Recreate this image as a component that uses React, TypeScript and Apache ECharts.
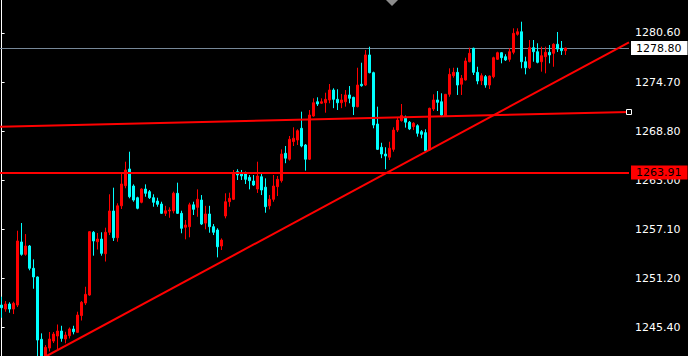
import React, { useEffect, useRef } from "react";
import * as echarts from "echarts";

// OHLC values (index = bar number)
const opens = [
  1248.03, 1247.55, 1248.15, 1247.55, 1248.03, 1255.58, 1254.1, 1255.1, 1252.43, 1251.39,
  1243.93, 1241.69, 1242.88, 1243.72, 1244.32, 1244.92, 1243.96, 1244.36, 1245.16, 1244.76,
  1246.77, 1248.27, 1249.23, 1256.74, 1255.61, 1255.93, 1254.17, 1256.74, 1259.29, 1256.09,
  1259.91, 1262.32, 1264.32, 1262.28, 1260.88, 1260.33, 1261.92, 1261.6, 1260.88, 1260.48,
  1260.12, 1259.01, 1259.29, 1259.29, 1261.41, 1259.01, 1257.34, 1257.41, 1260.03, 1259.73,
  1260.6, 1257.84, 1258.93, 1257.41, 1257.01, 1255.1, 1258.69, 1260.4, 1260.69, 1264.0,
  1263.88, 1263.88, 1263.32, 1262.88, 1261.92, 1263.39, 1262.14, 1259.91, 1260.69, 1262.2,
  1262.92, 1266.2, 1265.49, 1267.6, 1267.79, 1269.19, 1267.19, 1265.49, 1270.66, 1272.37,
  1272.19, 1272.25, 1272.58, 1273.77, 1272.66, 1272.25, 1272.37, 1273.18, 1272.9, 1271.78,
  1274.46, 1274.37, 1277.97, 1275.85, 1269.7, 1266.92, 1266.11, 1265.73, 1266.67, 1268.98,
  1270.11, 1270.39, 1269.92, 1269.39, 1269.5, 1268.79, 1268.67, 1266.59, 1271.5, 1272.58,
  1272.37, 1270.66, 1273.26, 1275.49, 1275.89, 1274.46, 1274.97, 1277.16, 1278.77, 1275.89,
  1274.89, 1275.37, 1274.37, 1275.37, 1277.45, 1278.24, 1277.76, 1277.45, 1278.29, 1280.44,
  1280.75, 1277.16, 1276.44, 1278.84, 1278.36, 1277.16, 1277.76, 1278.29, 1278.17, 1279.25,
  1278.77, 1278.48,
];

const closes = [
  1247.71, 1248.15, 1247.55, 1248.24, 1255.7, 1254.1, 1255.1, 1252.43, 1251.39, 1243.84,
  1241.69, 1242.97, 1243.96, 1244.56, 1244.92, 1244.04, 1244.44, 1245.16, 1244.83, 1246.83,
  1248.36, 1249.31, 1256.81, 1255.7, 1255.93, 1254.22, 1256.74, 1259.29, 1256.09, 1259.91,
  1262.52, 1264.2, 1261.0, 1260.6, 1259.61, 1261.92, 1261.41, 1260.88, 1260.33, 1260.09,
  1259.01, 1259.32, 1259.41, 1261.41, 1259.01, 1257.22, 1257.61, 1260.03, 1259.49, 1260.69,
  1257.73, 1258.93, 1257.41, 1256.74, 1255.01, 1255.81, 1260.4, 1260.81, 1263.8, 1263.6,
  1263.48, 1263.08, 1262.92, 1262.4, 1263.48, 1261.8, 1259.8, 1260.69, 1262.28, 1263.08,
  1266.11, 1265.61, 1267.87, 1268.0, 1268.9, 1267.07, 1265.49, 1270.78, 1272.25, 1272.1,
  1272.37, 1272.66, 1273.77, 1272.66, 1272.25, 1272.58, 1273.18, 1272.78, 1271.78, 1274.37,
  1274.29, 1277.97, 1275.85, 1269.58, 1266.67, 1266.11, 1265.87, 1266.81, 1268.98, 1270.18,
  1270.71, 1269.92, 1269.11, 1269.8, 1268.59, 1268.47, 1266.51, 1271.58, 1272.58, 1272.3,
  1270.78, 1273.26, 1275.65, 1275.89, 1274.37, 1275.18, 1277.25, 1278.17, 1275.89, 1274.85,
  1275.49, 1274.37, 1275.45, 1277.64, 1278.24, 1277.64, 1277.37, 1278.36, 1280.56, 1280.75,
  1277.16, 1276.44, 1278.84, 1278.36, 1277.09, 1277.88, 1278.29, 1277.97, 1279.25, 1278.68,
  1278.48, 1278.8,
];

const lows = [
  1246.51, 1247.23, 1247.11, 1246.95, 1247.79, 1253.94, 1253.94, 1252.19, 1249.98, 1241.45,
  1241.21, 1241.45, 1242.47, 1243.48, 1242.64, 1243.64, 1243.45, 1244.03, 1244.52, 1244.74,
  1246.18, 1248.03, 1249.14, 1253.94, 1254.68, 1253.94, 1253.24, 1256.41, 1255.7, 1255.61,
  1259.53, 1262.01, 1260.81, 1260.4, 1259.49, 1260.21, 1261.0, 1260.73, 1259.8, 1259.8,
  1258.93, 1258.69, 1258.48, 1259.01, 1258.93, 1256.62, 1255.9, 1256.14, 1258.81, 1258.6,
  1257.61, 1257.1, 1256.69, 1256.41, 1253.74, 1254.62, 1258.41, 1259.8, 1260.6, 1263.0,
  1263.0, 1262.52, 1261.88, 1262.28, 1261.45, 1261.2, 1259.08, 1259.49, 1260.4, 1261.08,
  1262.69, 1265.01, 1265.32, 1267.07, 1267.19, 1266.92, 1264.12, 1265.39, 1270.58, 1271.86,
  1272.1, 1271.06, 1272.19, 1271.6, 1271.38, 1271.6, 1271.78, 1272.19, 1270.78, 1271.7,
  1274.17, 1274.25, 1275.77, 1269.19, 1266.59, 1265.61, 1264.29, 1265.39, 1266.39, 1268.74,
  1269.99, 1269.27, 1268.98, 1268.98, 1268.19, 1267.99, 1266.47, 1266.47, 1271.26, 1271.26,
  1270.58, 1270.6, 1272.97, 1275.25, 1273.18, 1273.18, 1274.91, 1277.09, 1275.57, 1274.46,
  1274.37, 1274.05, 1273.89, 1275.18, 1277.37, 1276.97, 1277.25, 1277.16, 1278.05, 1280.28,
  1276.37, 1275.65, 1276.29, 1277.16, 1276.97, 1275.97, 1275.77, 1276.97, 1276.56, 1278.32,
  1277.97, 1277.97,
];

const highs = [
  1249.03, 1248.51, 1248.36, 1248.43, 1256.93, 1257.85, 1256.53, 1255.22, 1253.5, 1251.45,
  1244.64, 1243.24, 1244.8, 1244.8, 1245.7, 1245.55, 1244.83, 1245.34, 1245.55, 1247.23,
  1248.51, 1250.22, 1256.89, 1256.89, 1256.65, 1256.74, 1257.29, 1261.29, 1262.08, 1260.21,
  1263.8, 1265.19, 1266.39, 1262.48, 1261.0, 1262.01, 1262.48, 1261.8, 1261.29, 1260.88,
  1260.4, 1259.91, 1259.73, 1261.6, 1262.68, 1259.32, 1258.21, 1260.28, 1260.4, 1261.88,
  1261.2, 1259.91, 1259.91, 1257.73, 1257.22, 1256.01, 1261.41, 1261.48, 1264.2, 1264.29,
  1264.2, 1264.0, 1263.6, 1263.6, 1265.19, 1263.72, 1263.2, 1261.2, 1263.6, 1263.48,
  1266.67, 1267.07, 1268.27, 1269.31, 1269.07, 1271.18, 1267.31, 1271.38, 1272.78, 1272.9,
  1272.78, 1273.45, 1274.49, 1273.98, 1273.86, 1273.3, 1273.77, 1274.25, 1272.97, 1276.44,
  1277.04, 1278.56, 1278.96, 1275.97, 1271.78, 1267.46, 1266.92, 1267.58, 1269.31, 1270.54,
  1272.1, 1270.71, 1270.06, 1269.92, 1269.67, 1268.98, 1269.07, 1271.66, 1273.26, 1273.65,
  1273.38, 1273.3, 1276.37, 1276.44, 1276.44, 1275.57, 1277.64, 1278.84, 1278.84, 1276.56,
  1275.77, 1275.57, 1275.51, 1277.76, 1278.36, 1278.29, 1278.05, 1278.77, 1281.16, 1281.16,
  1281.95, 1277.76, 1279.76, 1279.76, 1279.37, 1278.96, 1278.96, 1279.16, 1279.37, 1280.72,
  1279.64, 1278.84,
];

// price scale tick labels on the right axis
const yTicks = [1245.4, 1251.2, 1257.1, 1263.0, 1268.8, 1274.7, 1280.6];

// visible ranges
const X_MIN = -0.4;
const X_MAX = 156.85;
const Y_MIN = 1241.93;
const Y_MAX = 1284.55;

// horizontal levels
const bidPrice = 1278.8;
const levelPrice = 1263.91;

// drawn trend lines [barIndex, price]
const risingTrend = [
  [11.275, 1241.93],
  [156.85, 1279.49],
];
const channelLine = [
  [-0.4, 1269.37],
  [156.85, 1271.14],
];

const FONT = "DejaVu Sans";

export default function App() {
  const ref = useRef<HTMLDivElement>(null);

  useEffect(() => {
    document.body.style.margin = "0";
    const chart = echarts.init(ref.current!, null, { renderer: "svg" });
    const candles = opens.map((o, i) => [i, o, closes[i], lows[i], highs[i]]);

    chart.setOption({
      animation: false,
      backgroundColor: "#000000",
      grid: { left: 0, right: 59, top: 0, bottom: 0, containLabel: false },
      xAxis: { type: "value", min: X_MIN, max: X_MAX, show: false },
      yAxis: {
        type: "value",
        position: "right",
        min: Y_MIN,
        max: Y_MAX,
        splitLine: { show: false },
        axisLine: { show: true, lineStyle: { color: "#ffffff", width: 1 } },
        axisTick: {
          show: true,
          inside: false,
          length: 3,
          lineStyle: { color: "#ffffff" },
          customValues: yTicks,
        },
        axisLabel: {
          show: true,
          color: "#ffffff",
          fontFamily: FONT,
          fontSize: 11,
          margin: 6,
          customValues: yTicks,
          formatter: (v: number) => v.toFixed(2),
        },
      },
      graphic: [
        {
          type: "polygon",
          shape: { points: [[386, 0], [398, 0], [392, 6]] },
          style: { fill: "#8c8c8c" },
        },
      ],
      series: [
        {
          type: "line",
          data: [],
          silent: true,
          z: 1,
          markLine: {
            z: 1,
            silent: true,
            symbol: ["none", "none"],
            lineStyle: { color: "#778899", width: 1, type: "solid" },
            label: {
              show: true,
              position: "end",
              distance: 2,
              formatter: (p: any) => Number(p.value).toFixed(2),
              color: "#000000",
              backgroundColor: "#ffffff",
              padding: [1, 6, 1, 5],
              fontFamily: FONT,
              fontSize: 11,
              lineHeight: 12,
            },
            data: [{ yAxis: bidPrice }],
          },
        },
        {
          type: "candlestick",
          data: candles,
          barWidth: 2,
          z: 2,
          itemStyle: {
            color: "#ff0000",
            color0: "#00ffff",
            borderColor: "#ff0000",
            borderColor0: "#00ffff",
            borderWidth: 1,
          },
        },
        {
          type: "line",
          data: risingTrend,
          symbol: "none",
          silent: true,
          z: 4,
          lineStyle: { color: "#ff0000", width: 2 },
        },
        {
          type: "line",
          clip: false,
          silent: true,
          z: 4,
          data: [
            { value: channelLine[0], symbol: "none" },
            {
              value: channelLine[1],
              symbol: "rect",
              symbolSize: 5,
              itemStyle: { color: "#000000", borderColor: "#ffffff", borderWidth: 1 },
            },
          ],
          showSymbol: true,
          lineStyle: { color: "#ff0000", width: 2 },
          markLine: {
            z: 5,
            silent: true,
            symbol: ["none", "none"],
            lineStyle: { color: "#ff0000", width: 2, type: "solid" },
            label: {
              show: true,
              position: "end",
              distance: 2,
              formatter: (p: any) => Number(p.value).toFixed(2),
              color: "#000000",
              backgroundColor: "#ff0000",
              padding: [1, 6, 1, 5],
              fontFamily: FONT,
              fontSize: 11,
              lineHeight: 12,
            },
            data: [{ yAxis: levelPrice }],
          },
        },
      ],
    });

    return () => chart.dispose();
  }, []);

  return (
    <div
      ref={ref}
      style={{ position: "fixed", left: 0, top: 0, width: 688, height: 356, background: "#000" }}
    />
  );
}
